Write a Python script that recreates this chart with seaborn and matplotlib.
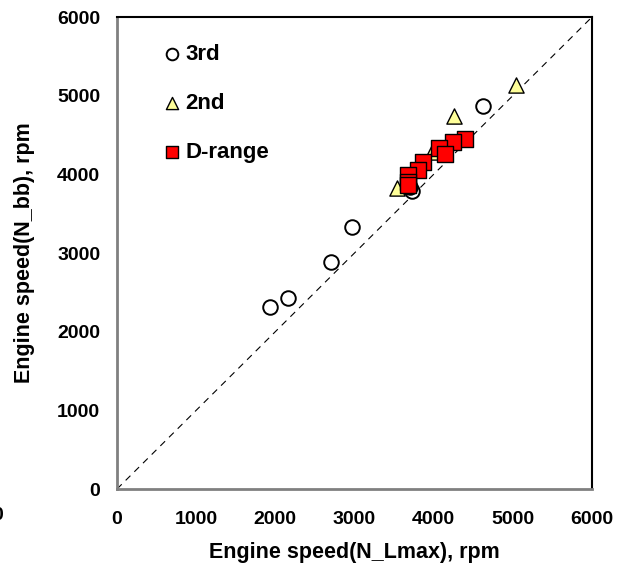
import matplotlib
matplotlib.use("Agg")
import matplotlib.pyplot as plt
import seaborn as sns
import pandas as pd

sns.set_style("white")
plt.rcParams['font.family'] = ['Liberation Sans', 'DejaVu Sans']
plt.rcParams['font.weight'] = 'bold'
plt.rcParams['text.color'] = 'black'
plt.rcParams['axes.labelcolor'] = 'black'

third_x = [1930, 2160, 2700, 2965, 4620, 3720, 3700]
third_y = [2310, 2425, 2885, 3330, 4865, 3790, 3840]

second_x = [3535, 3975, 4255, 5045]
second_y = [3825, 4285, 4745, 5140]

d_x = [4390, 4240, 4065, 4140, 3865, 3800, 3675, 3675, 3675]
d_y = [4455, 4405, 4335, 4260, 4155, 4055, 3990, 3900, 3865]

x_ticks = [0, 1000, 2000, 3000, 4000, 5000, 6000]
y_ticks = [0, 1000, 2000, 3000, 4000, 5000, 6000]

fig = plt.figure(figsize=(6.2, 5.63), dpi=100)
ax = fig.add_axes([117/620, 1-489/563, (592-117)/620, (489-17)/563])

ax.plot([0, 6000], [0, 6000], ls=(0, (6, 5)), color='black', lw=0.8, zorder=1)

df3 = pd.DataFrame({'x': third_x, 'y': third_y})
df2 = pd.DataFrame({'x': second_x, 'y': second_y})
dfd = pd.DataFrame({'x': d_x, 'y': d_y})

sns.scatterplot(data=df3, x='x', y='y', ax=ax, marker='o', s=110, facecolor='white',
                edgecolor='black', linewidth=1.4, label='3rd', zorder=3)
sns.scatterplot(data=df2, x='x', y='y', ax=ax, marker='^', s=120, facecolor='#FFFF99',
                edgecolor='black', linewidth=1.0, label='2nd', zorder=4)
sns.scatterplot(data=dfd, x='x', y='y', ax=ax, marker='s', s=120, facecolor='#FF0000',
                edgecolor='black', linewidth=1.0, label='D-range', zorder=5)

ax.set_xlim(0, 6000)
ax.set_ylim(0, 6000)
ax.set_xticks(x_ticks)
ax.set_yticks(y_ticks)
ax.set_xticklabels([str(t) for t in x_ticks], fontsize=14, fontweight='bold')
ax.set_yticklabels([str(t) for t in y_ticks], fontsize=14, fontweight='bold')
ax.tick_params(axis='x', direction='in', length=4, color='#808080', width=1, pad=16,
               labelcolor='black')
ax.tick_params(axis='y', direction='in', length=4, color='#808080', width=1, pad=12,
               labelcolor='black')

ax.set_xlabel('Engine speed(N_Lmax), rpm', fontsize=15.5, fontweight='bold', labelpad=10)
ax.set_ylabel('Engine speed(N_bb), rpm', fontsize=15.5, fontweight='bold', labelpad=16)

for side in ['left', 'bottom']:
    ax.spines[side].set_color('#808080')
    ax.spines[side].set_linewidth(2)
for side in ['top', 'right']:
    ax.spines[side].set_color('black')
    ax.spines[side].set_linewidth(1.5)

leg = ax.legend(loc='upper left', bbox_to_anchor=(0.05, 0.985), frameon=False,
                prop={'weight': 'bold', 'size': 16}, labelspacing=1.25,
                handletextpad=0.1, handlelength=1.0, markerscale=0.8)

fig.text(-2/620, 1-515/563, '0', ha='center', va='center', fontsize=14, fontweight='bold')

fig.savefig('out.png', dpi=100)
